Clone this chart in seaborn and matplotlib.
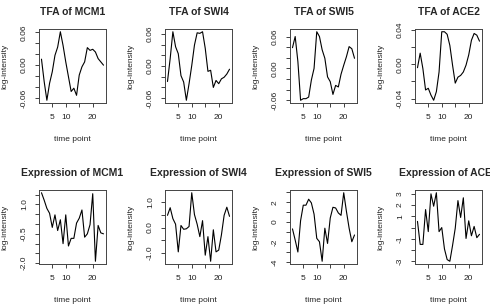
import numpy as np
import pandas as pd
import matplotlib
matplotlib.use("Agg")
import matplotlib.pyplot as plt
import seaborn as sns

# time points
time_point = list(range(1, 25))

# TFA estimates (top row)
tfa_mcm1 = [0.011, -0.030, -0.064, -0.033, -0.012, 0.018, 0.033, 0.061, 0.036, 0.006, -0.021, -0.048,
            -0.042, -0.055, -0.018, -0.003, 0.006, 0.032, 0.027, 0.029, 0.024, 0.012, 0.006, 0.000]
tfa_swi4 = [-0.029, 0.014, 0.064, 0.036, 0.023, -0.018, -0.030, -0.064, -0.033, 0.001, 0.039, 0.062,
            0.061, 0.064, 0.033, -0.010, -0.008, -0.040, -0.027, -0.033, -0.024, -0.021, -0.015, -0.006]
tfa_swi5 = [0.039, 0.060, 0.013, -0.060, -0.057, -0.057, -0.054, -0.022, 0.000, 0.069, 0.060, 0.035,
            0.019, -0.016, -0.025, -0.049, -0.032, -0.035, -0.011, 0.006, 0.022, 0.041, 0.037, 0.019]
tfa_ace2 = [-0.004, 0.013, -0.005, -0.030, -0.028, -0.036, -0.042, -0.032, -0.009, 0.038, 0.038, 0.035,
            0.022, -0.001, -0.022, -0.015, -0.013, -0.009, -0.001, 0.011, 0.028, 0.036, 0.034, 0.027]

# expression levels (bottom row)
expr_mcm1 = [1.6, 1.22, 0.8, 0.55, -0.17, 0.47, -0.33, 0.22, -1.0, 0.47, -1.12, -0.73,
             -0.73, 0.05, 0.3, 0.72, -0.67, -0.5, -0.03, 1.55, -1.9, -0.07, -0.45, -0.5]
expr_swi4 = [0.48, 0.78, 0.35, 0.13, -0.96, 0.08, -0.07, -0.05, 0.04, 1.37, 0.51, 0.13,
             -0.36, 0.27, -1.09, -0.36, -1.33, -0.09, -0.96, -0.89, -0.29, 0.48, 0.8, 0.44]
expr_swi5 = [-0.68, -1.8, -3.0, 0.14, 1.7, 1.7, 2.3, 1.93, 0.8, -1.63, -1.97, -3.93,
             -0.61, -2.14, 0.41, 1.49, 1.42, 0.92, 0.68, 2.95, 1.08, -0.61, -1.97, -1.29]
expr_ace2 = [0.55, -1.5, -1.5, 1.6, -0.36, 3.0, 1.9, 3.1, -0.36, 0.0, -1.9, -2.85,
             -3.0, -1.6, -0.06, 2.4, 0.9, 2.65, -0.97, 0.6, -0.73, 0.1, -0.9, -0.6]

titles = ["TFA of MCM1", "TFA of SWI4", "TFA of SWI5", "TFA of ACE2",
          "Expression of MCM1", "Expression of SWI4", "Expression of SWI5", "Expression of ACE2"]
series = [tfa_mcm1, tfa_swi4, tfa_swi5, tfa_ace2, expr_mcm1, expr_swi4, expr_swi5, expr_ace2]

# y ticks and which of them carry a label (R drops overlapping labels)
y_ticks = [np.arange(-0.06, 0.061, 0.02), np.arange(-0.06, 0.061, 0.02),
           np.arange(-0.06, 0.061, 0.02), np.arange(-0.04, 0.041, 0.02),
           np.arange(-2.0, 1.51, 0.5), np.arange(-1.0, 1.01, 0.5),
           np.arange(-4, 3.1, 1), np.arange(-3, 3.1, 1)]
y_labels = [{-0.06: "-0.06", 0.0: "0.00", 0.06: "0.06"},
            {-0.06: "-0.06", 0.0: "0.00", 0.06: "0.06"},
            {-0.06: "-0.06", 0.0: "0.00", 0.06: "0.06"},
            {-0.04: "-0.04", 0.0: "0.00", 0.04: "0.04"},
            {-2.0: "-2.0", -0.5: "-0.5", 1.0: "1.0"},
            {-1.0: "-1.0", 0.0: "0.0", 1.0: "1.0"},
            {-4: "-4", -2: "-2", 0: "0", 2: "2"},
            {-3: "-3", -1: "-1", 1: "1", 2: "2", 3: "3"}]
x_ticks = [5, 10, 15, 20]
x_labels = ["5", "10", "", "20"]

sns.set_style("ticks")
plt.rcParams['font.family'] = ['Liberation Sans', 'DejaVu Sans']
plt.rcParams['axes.unicode_minus'] = False

W, H = 490, 306
fig = plt.figure(figsize=(W / 100, H / 100), dpi=100)

lefts = [39, 165, 290, 415]
tops = [29, 190]
bw, bh = 67, 74

for i, (title, vals) in enumerate(zip(titles, series)):
    row, col = divmod(i, 4)
    ax = fig.add_axes([lefts[col] / W, 1 - (tops[row] + bh) / H, bw / W, bh / H])
    df = pd.DataFrame({"time point": time_point, "log-intensity": vals})
    sns.lineplot(data=df, x="time point", y="log-intensity", ax=ax,
                 color="black", linewidth=0.8)
    ax.margins(x=0.04, y=0.04)
    ax.set_xticks(x_ticks)
    ax.set_xticklabels(x_labels)
    ticks = y_ticks[i]
    ax.set_yticks(ticks)
    labs = []
    for t in ticks:
        lab = ""
        for k, v in y_labels[i].items():
            if abs(t - k) < 1e-9:
                lab = v
        labs.append(lab)
    ax.set_yticklabels(labs, rotation=90, va="center")
    ax.tick_params(axis="both", length=3, width=0.6, pad=5, labelsize=6, colors="#222222")
    for s in ax.spines.values():
        s.set_visible(True)
        s.set_linewidth(0.7)
        s.set_color("#444444")
    ax.set_xlabel("time point", fontsize=6)
    ax.set_ylabel("log-intensity", fontsize=6)
    ax.xaxis.set_label_coords(0.5, -0.44)
    ax.yaxis.set_label_coords(-0.45, 0.5)
    ax.set_title(title, fontsize=7.5, fontweight="bold", pad=10)

fig.savefig("out.png", dpi=100)
